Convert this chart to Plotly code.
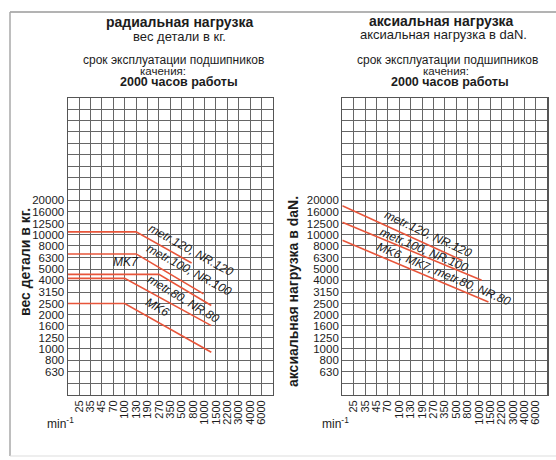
import numpy as np
import plotly.graph_objects as go

W, H = 556, 460

# ---- axis categories / tick labels ----
speeds = ["25", "35", "45", "70", "100", "130", "190", "270", "350", "500",
          "800", "1000", "1500", "2200", "3000", "4000", "6000"]
loads = [20000, 16000, 12500, 10000, 8000, 6300, 5000, 4000, 3150,
         2500, 2000, 1600, 1250, 1000, 800, 630]

# ---- radial load (kg) : plateau until knee speed, then falling to end ----
radial_names = ["metr.120, NR.120", "metr.100, NR.100", "MK7", "metr.80, NR.80", "MK6"]
radial_plateau = [10600, 6800, 4500, 4150, 2500]
radial_knee_speed = [130, 130, 270, 100, 100]
radial_end_speed = [750, 980, 1270, 1270, 1270]
radial_end_load = [5670, 3040, 2400, 1600, 935]

# ---- axial load (daN) : straight falling lines ----
axial_names = ["metr.120, NR.120", "metr.100, NR.100", "MK6, MK7, metr.80, NR.80"]
axial_start_load = [18000, 12900, 8950]
axial_end_speed = [650, 1100, 1400]
axial_end_load = [5940, 3990, 2580]

# label placement (x position in columns, load, angle)
radial_lbl_x = [9.90, 9.76, 4.22, 9.24, 6.93]
radial_lbl_y = [6840, 4540, 5370, 2530, 2140]
radial_lbl_ang = [29, 28.5, 0, 31, 30]
axial_lbl_x = [6.58, 6.23, 7.93]
axial_lbl_y = [9570, 6980, 4280]
axial_lbl_ang = [25, 23, 23]

RED = "#e8553a"
GRID = "#666666"
TXT = "#1c1c1c"
FONT = "Liberation Sans, Arial, sans-serif"

spd_num = np.array([float(s) for s in speeds])
idx = np.arange(len(speeds))


def pos(speed):
    return float(np.interp(np.log(speed), np.log(spd_num), idx))


X_MIN, X_MAX = -1, len(speeds)
Y_MIN = np.log10(loads[-1]) - 0.2
Y_MAX = np.log10(loads[0]) + 0.9

grid_vals = [loads[0] * 10 ** (0.1 * k) for k in range(1, 9)] + loads + [loads[-1] / 10 ** 0.1]
grid_text = [""] * 8 + [str(v) for v in loads] + [""]


def px(x):
    return x / W


def py(y):
    return 1 - y / H


top, bot = py(97.7), py(394.7)
dom1 = [px(67.7), px(273.0)]
dom2 = [px(342.3), px(547.3)]

fig = go.Figure()

for i, n in enumerate(radial_names):
    fig.add_trace(go.Scatter(
        x=[X_MIN, pos(radial_knee_speed[i]), pos(radial_end_speed[i])],
        y=[radial_plateau[i], radial_plateau[i], radial_end_load[i]],
        mode="lines", line=dict(color=RED, width=1.6), name=n,
        xaxis="x", yaxis="y", showlegend=False, hoverinfo="skip"))

for i, n in enumerate(axial_names):
    fig.add_trace(go.Scatter(
        x=[X_MIN, pos(axial_end_speed[i])],
        y=[axial_start_load[i], axial_end_load[i]],
        mode="lines", line=dict(color=RED, width=1.6), name=n,
        xaxis="x2", yaxis="y2", showlegend=False, hoverinfo="skip"))


def xax(dom, anchor):
    return dict(domain=dom, anchor=anchor, range=[X_MIN, X_MAX], tickmode="array",
                tickvals=list(idx), ticktext=speeds, tickangle=-90,
                showgrid=True, gridcolor=GRID, gridwidth=1, zeroline=False,
                showline=True, linecolor="#555", linewidth=1.2, mirror=True,
                ticks="", tickfont=dict(size=11, color=TXT, family=FONT), fixedrange=True)


def yax(anchor):
    return dict(domain=[bot, top], anchor=anchor, type="log", range=[Y_MIN, Y_MAX],
                tickmode="array", tickvals=grid_vals, ticktext=grid_text,
                showgrid=True, gridcolor=GRID, gridwidth=1, zeroline=False,
                showline=True, linecolor="#555", linewidth=1.2, mirror=True,
                ticks="", tickfont=dict(size=11.5, color=TXT, family=FONT), fixedrange=True)


ann = []


def txt(x, y, s, size, bold=False, color=TXT, angle=0):
    ann.append(dict(x=px(x), y=py(y), xref="paper", yref="paper", text=("<b>%s</b>" % s) if bold else s,
                    showarrow=False, xanchor="center", yanchor="middle", textangle=angle,
                    font=dict(size=size, color=color, family=FONT)))


# headings
txt(179, 22, "радиальная нагрузка", 14, bold=True)
txt(179, 37, "вес детали в кг.", 13)
txt(173, 60, "срок эксплуатации подшипников", 12)
txt(163, 71, "качения:", 11.5)
txt(179, 82, "2000 часов работы", 12.5, bold=True)

txt(441, 21, "аксиальная нагрузка", 14, bold=True)
txt(443.5, 34, "аксиальная нагрузка в daN.", 13)
txt(447, 60, "срок эксплуатации подшипников", 12)
txt(446, 71, "качения:", 11.5)
txt(450, 82, "2000 часов работы", 12.5, bold=True)

# axis titles
txt(25, 262, "вес детали в кг.", 14, bold=True, angle=-90)
txt(293, 292, "аксиальная нагрузка в daN.", 14, bold=True, angle=-90)
txt(60, 423, "min<sup>-1</sup>", 12)
txt(335, 423, "min<sup>-1</sup>", 12)

# line labels
for i, n in enumerate(radial_names):
    ann.append(dict(x=radial_lbl_x[i], y=np.log10(radial_lbl_y[i]), xref="x", yref="y",
                    text="<i>%s</i>" % n, showarrow=False, textangle=radial_lbl_ang[i],
                    yshift=4, xshift=-1, font=dict(size=12, color=TXT, family=FONT)))
for i, n in enumerate(axial_names):
    ann.append(dict(x=axial_lbl_x[i], y=np.log10(axial_lbl_y[i]), xref="x2", yref="y2",
                    text="<i>%s</i>" % n, showarrow=False, textangle=axial_lbl_ang[i],
                    yshift=3, font=dict(size=12, color=TXT, family=FONT)))

shapes = [
    dict(type="line", xref="paper", yref="paper", x0=px(10), x1=px(556), y0=py(12), y1=py(12),
         line=dict(color="#9a9a9a", width=1.5)),
    dict(type="line", xref="paper", yref="paper", x0=px(10), x1=px(10), y0=py(12), y1=py(456),
         line=dict(color="#a8a8a8", width=1.5)),
    dict(type="line", xref="paper", yref="paper", x0=px(10), x1=px(556), y0=py(456), y1=py(456),
         line=dict(color="#dddddd", width=1)),
]

fig.update_layout(
    width=W, height=H, autosize=False,
    margin=dict(l=0, r=0, t=0, b=0),
    paper_bgcolor="white", plot_bgcolor="white",
    font=dict(family=FONT, color=TXT),
    xaxis=xax(dom1, "y"), yaxis=yax("x"),
    xaxis2=xax(dom2, "y2"), yaxis2=yax("x2"),
    annotations=ann, shapes=shapes, showlegend=False,
)

fig.write_html("out.html", config={"displayModeBar": False, "staticPlot": True},
               post_script="document.body.style.margin='0';document.body.style.overflow='hidden';")
